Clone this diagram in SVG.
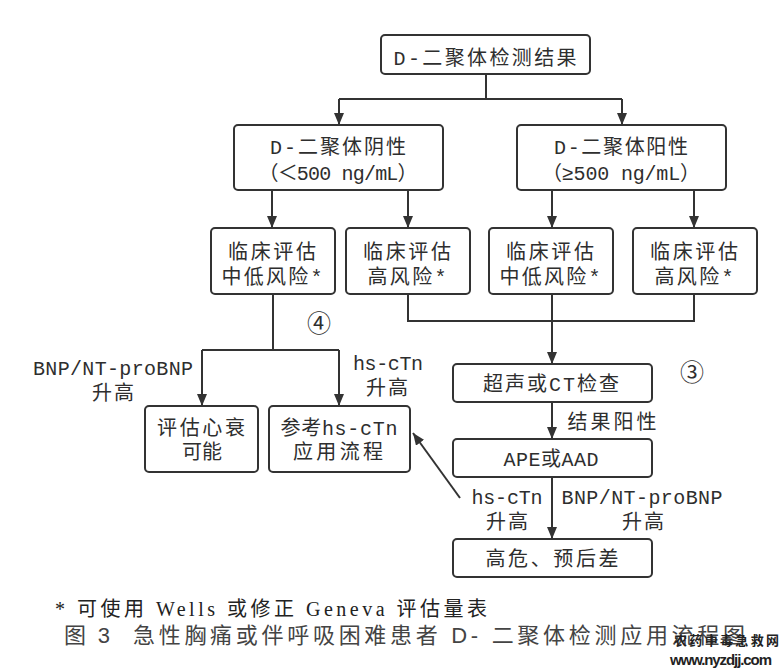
<svg xmlns="http://www.w3.org/2000/svg" width="781" height="671" viewBox="0 0 781 671">
<defs>
<style>
.box{fill:#fff;stroke:#333;stroke-width:2}
.ln{fill:none;stroke:#333;stroke-width:2}
.t{font-family:"Liberation Mono","Noto Sans CJK SC",monospace;font-size:20px;fill:#2e2e2e;text-anchor:middle}
.num{font-family:"Noto Sans CJK SC","DejaVu Sans",sans-serif;font-size:24px;fill:#2e2e2e;text-anchor:middle}
.foot{font-family:"Liberation Serif","Noto Sans CJK SC",serif;font-size:20px;fill:#222}
.cap{font-family:"Liberation Sans","Noto Sans CJK SC",sans-serif;font-size:22px;fill:#444}
.wm1{font-family:"Noto Sans CJK SC",sans-serif;font-size:13px;font-weight:bold;fill:#222}
.wm2{font-family:"Liberation Sans",sans-serif;font-size:15px;font-weight:bold;fill:#222}
</style>
<marker id="ah" viewBox="0 0 12 10" refX="12" refY="5" markerWidth="12" markerHeight="10" markerUnits="userSpaceOnUse" orient="auto">
<path d="M0,0 L12,5 L0,10 z" fill="#333"/>
</marker>
</defs>
<rect width="781" height="671" fill="#fff"/>

<g id="connectors">
<path class="ln" d="M486,74 V99"/>
<path class="ln" d="M339,99 H622"/>
<path class="ln" d="M339,99 V125" marker-end="url(#ah)"/>
<path class="ln" d="M622,99 V125" marker-end="url(#ah)"/>
<path class="ln" d="M272,190 V228" marker-end="url(#ah)"/>
<path class="ln" d="M408,190 V228" marker-end="url(#ah)"/>
<path class="ln" d="M552,190 V228" marker-end="url(#ah)"/>
<path class="ln" d="M694,190 V228" marker-end="url(#ah)"/>
<path class="ln" d="M273,294 V350"/>
<path class="ln" d="M202,350 H339"/>
<path class="ln" d="M202,350 V406" marker-end="url(#ah)"/>
<path class="ln" d="M339,350 V406" marker-end="url(#ah)"/>
<path class="ln" d="M408,294 V321 H694 V294"/>
<path class="ln" d="M552,294 V364" marker-end="url(#ah)"/>
<path class="ln" d="M552,402 V439" marker-end="url(#ah)"/>
<path class="ln" d="M552,477 V539" marker-end="url(#ah)"/>
<path class="ln" d="M460,498 L413,433" marker-end="url(#ah)"/>
</g>

<g id="edge-labels">
<text class="t" x="113" y="375" textLength="160" lengthAdjust="spacing">BNP/NT-proBNP</text>
<text class="t" x="113" y="400" textLength="42" lengthAdjust="spacing">升高</text>
<text class="t" x="388" y="370" textLength="70" lengthAdjust="spacing">hs-cTn</text>
<text class="t" x="387" y="395" textLength="42" lengthAdjust="spacing">升高</text>
<text class="t" x="612" y="429" textLength="89" lengthAdjust="spacing">结果阳性</text>
<text class="t" x="507" y="504" textLength="71" lengthAdjust="spacing">hs-cTn</text>
<text class="t" x="507" y="529" textLength="42" lengthAdjust="spacing">升高</text>
<text class="t" x="642" y="504" textLength="161" lengthAdjust="spacing">BNP/NT-proBNP</text>
<text class="t" x="643" y="529" textLength="42" lengthAdjust="spacing">升高</text>
<text class="num" x="319" y="332">④</text>
<text class="num" x="692" y="381">③</text>
</g>

<g id="n-root">
<rect class="box" x="381" y="35" width="209" height="39" rx="4"/>
<text class="t" x="485" y="65" textLength="183" lengthAdjust="spacing">D-二聚体检测结果</text>
</g>
<g id="n-neg">
<rect class="box" x="234" y="125" width="209" height="65" rx="4"/>
<text class="t" x="338" y="154" textLength="136" lengthAdjust="spacing">D-二聚体阴性</text>
<text class="t" x="338" y="180" textLength="159" lengthAdjust="spacing">（＜500 ng/mL）</text>
</g>
<g id="n-pos">
<rect class="box" x="517" y="125" width="209" height="65" rx="4"/>
<text class="t" x="621" y="154" textLength="134" lengthAdjust="spacing">D-二聚体阳性</text>
<text class="t" x="621" y="180" textLength="158" lengthAdjust="spacing">（≥500 ng/mL）</text>
</g>
<g id="n-neg-low">
<rect class="box" x="211" y="228" width="124" height="66" rx="4"/>
<text class="t" x="272" y="259" textLength="88" lengthAdjust="spacing">临床评估</text>
<text class="t" x="272" y="284" textLength="101" lengthAdjust="spacing">中低风险*</text>
</g>
<g id="n-neg-high">
<rect class="box" x="346" y="228" width="124" height="66" rx="4"/>
<text class="t" x="407" y="259" textLength="88" lengthAdjust="spacing">临床评估</text>
<text class="t" x="407" y="284" textLength="79" lengthAdjust="spacing">高风险*</text>
</g>
<g id="n-pos-low">
<rect class="box" x="489" y="228" width="124" height="66" rx="4"/>
<text class="t" x="550" y="259" textLength="88" lengthAdjust="spacing">临床评估</text>
<text class="t" x="550" y="284" textLength="101" lengthAdjust="spacing">中低风险*</text>
</g>
<g id="n-pos-high">
<rect class="box" x="633" y="228" width="124" height="66" rx="4"/>
<text class="t" x="694" y="259" textLength="88" lengthAdjust="spacing">临床评估</text>
<text class="t" x="694" y="284" textLength="79" lengthAdjust="spacing">高风险*</text>
</g>
<g id="n-hf">
<rect class="box" x="145" y="406" width="113" height="66" rx="4"/>
<text class="t" x="201" y="435" textLength="88" lengthAdjust="spacing">评估心衰</text>
<text class="t" x="202" y="459" textLength="40" lengthAdjust="spacing">可能</text>
</g>
<g id="n-ctn">
<rect class="box" x="269" y="406" width="141" height="66" rx="4"/>
<text class="t" x="339" y="435" textLength="117" lengthAdjust="spacing">参考hs-cTn</text>
<text class="t" x="338" y="459" textLength="90" lengthAdjust="spacing">应用流程</text>
</g>
<g id="n-us">
<rect class="box" x="453" y="364" width="199" height="38" rx="4"/>
<text class="t" x="551" y="391" textLength="136" lengthAdjust="spacing">超声或CT检查</text>
</g>
<g id="n-ape">
<rect class="box" x="453" y="439" width="199" height="38" rx="4"/>
<text class="t" x="551" y="466" textLength="95" lengthAdjust="spacing">APE或AAD</text>
</g>
<g id="n-risk">
<rect class="box" x="453" y="539" width="199" height="38" rx="4"/>
<text class="t" x="552" y="566" textLength="133" lengthAdjust="spacing">高危、预后差</text>
</g>

<g id="notes">
<text class="foot" x="55" y="616" textLength="432" lengthAdjust="spacing">* 可使用 Wells 或修正 Geneva 评估量表</text>
<text class="cap" x="64" y="643" textLength="46" lengthAdjust="spacing">图 3</text>
<text class="cap" x="133" y="643" textLength="612" lengthAdjust="spacing">急性胸痛或伴呼吸困难患者 D- 二聚体检测应用流程图</text>
<text class="wm1" x="674" y="645" textLength="105" lengthAdjust="spacing">农药中毒急救网</text>
<text class="wm2" x="670" y="665" textLength="102" lengthAdjust="spacing">www.nyzdjj.com</text>
</g>
</svg>
